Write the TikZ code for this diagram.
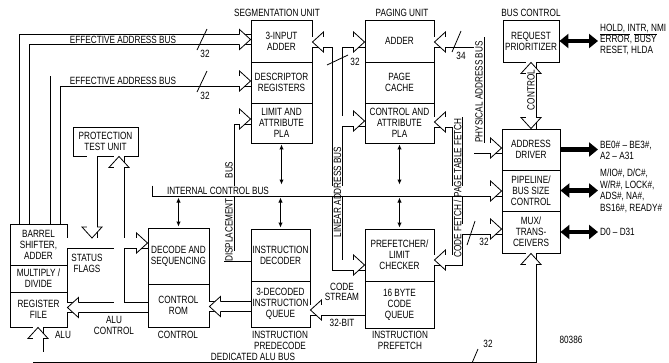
\documentclass[tikz,border=0pt]{standalone}
\usepackage{fontspec}
\setmainfont{Liberation Sans}[FakeStretch=0.78]
\usetikzlibrary{arrows.meta}

\tikzset{
  box/.style={draw, line width=0.9pt, fill=white, inner sep=0pt, align=center},
  busout/.style={line width=11pt, line join=miter},
  busin/.style={white, line width=9.4pt, line join=miter},
  sig/.style={line width=4.5pt, >={Triangle[width=14pt,length=9pt]}},
  link/.style={line width=1pt, >={Latex[length=5pt,width=4.5pt]}, <->, shorten <=1pt, shorten >=1pt},
  sigtext/.style={anchor=west, align=left, inner sep=2pt},
  pics/head/.style={code={\filldraw[fill=white, line width=0.8pt, line join=miter] (-11,5.1) -- (-11,10) -- (0,0) -- (-11,-10) -- (-11,-5.1);}},
}

\begin{document}
\begin{tikzpicture}[x=1pt, y=-1pt, font=\fontsize{10.5}{11}\selectfont]
\useasboundingbox (0,0) rectangle (669,362);

% segmentation unit
\node[box, minimum width=61pt, minimum height=42pt] (sadd) at (281.5,41) {3-INPUT\\ADDER};
\node[box, minimum width=61pt, minimum height=41pt] (sdesc) at (281.5,82.5) {DESCRIPTOR\\REGISTERS};
\node[box, minimum width=61pt, minimum height=40pt] (slim) at (281.5,123) {LIMIT AND\\ATTRIBUTE\\PLA};

% paging unit
\node[box, minimum width=69pt, minimum height=42pt] (padd) at (399.5,41) {ADDER};
\node[box, minimum width=69pt, minimum height=41pt] (pcache) at (399.5,82.5) {PAGE\\CACHE};
\node[box, minimum width=69pt, minimum height=40pt] (ppla) at (399.5,123) {CONTROL AND\\ATTRIBUTE\\PLA};

% bus control
\node[box, minimum width=56pt, minimum height=42pt] (req) at (531,41) {REQUEST\\PRIORITIZER};
\node[box, minimum width=58pt, minimum height=41pt] (adr) at (531,149.5) {ADDRESS\\DRIVER};
\node[box, minimum width=58pt, minimum height=41pt] (pipe) at (531,190.5) {PIPELINE/\\BUS SIZE\\CONTROL};
\node[box, minimum width=58pt, minimum height=42pt] (mux) at (531,232) {MUX/\\TRANS-\\CEIVERS};

% alu
\node[box, minimum width=57pt, minimum height=41pt] (bar) at (38.5,244.5) {BARREL\\SHIFTER,\\ADDER};
\node[box, minimum width=57pt, minimum height=27pt] (mul) at (38.5,278.5) {MULTIPLY /\\DIVIDE};
\node[box, minimum width=57pt, minimum height=35pt] (reg) at (38.5,309.5) {REGISTER\\FILE};
\node[box, minimum width=65pt, minimum height=29pt] (prot) at (105.5,141.5) {PROTECTION\\TEST UNIT};

% control
\node[box, minimum width=61pt, minimum height=56pt] (dec) at (178.5,256) {DECODE AND\\SEQUENCING};
\node[box, minimum width=61pt, minimum height=43pt] (rom) at (178.5,305.5) {CONTROL\\ROM};

% instruction predecode and prefetch
\node[box, minimum width=59pt, minimum height=52pt] (idec) at (280.5,255) {INSTRUCTION\\DECODER};
\node[box, minimum width=59pt, minimum height=46pt] (iq) at (280.5,304) {3-DECODED\\INSTRUCTION\\QUEUE};
\node[box, minimum width=69pt, minimum height=52pt] (pf) at (399.5,255) {PREFETCHER/\\LIMIT\\CHECKER};
\node[box, minimum width=69pt, minimum height=47pt] (cq) at (399.5,304.5) {16 BYTE\\CODE\\QUEUE};

\coordinate (ea1) at (24.5,39.5);
\coordinate (ea2) at (55.5,81);
\coordinate (dsp) at (229,119);
\coordinate (dspb) at (229,256);
\coordinate (lin) at (337.5,42);
\coordinate (linm) at (337.5,121);
\coordinate (linb) at (337.5,265);
\coordinate (cf) at (457.5,122);
\coordinate (cfm) at (457.5,229);
\coordinate (cfb) at (457.5,260);
\coordinate (phy) at (479,42);
\coordinate (phyb) at (479,148);
\coordinate (cs) at (337,310);
\coordinate (ri) at (230,306.5);
\coordinate (aluc) at (119,307.5);
\coordinate (st) at (92,243);
\coordinate (pd) at (92,238);
\coordinate (alu) at (38,357);
\coordinate (icb) at (152,191);
\coordinate (icbt) at (152,185.5);
\coordinate (icbb) at (152,196.5);

\foreach \s in {busout,busin}{
  \draw[\s] (ea1 |- bar.north) -- (ea1) -- (ea1 -| sadd.west);
  \draw[\s] (ea2 |- bar.north) -- (ea2) -- (ea2 -| sdesc.west);
  \draw[\s] (dspb -| idec.west) -- (dspb) -- (dsp) -- (dsp -| slim.west);
  \draw[\s] (lin -| sadd.east) -- (lin -| padd.west) (lin) -- (linb) -- (linb -| pf.west) (linm) -- (linm -| ppla.west);
  \draw[\s] (cf -| ppla.east) -- (cf) -- (cfb) -- (cfb -| pf.east) (cfm) -- (cfm -| mux.west);
  \draw[\s] (phy -| padd.east) -- (phy) -- (phyb) -- (phyb -| adr.west);
  \draw[\s] (req.south) -- (adr.north);
  \draw[\s] (cs -| cq.west) -- (cs -| iq.east);
  \draw[\s] (ri -| iq.west) -- (ri -| rom.east);
  \draw[\s] (st -| bar.east) -- (st -| dec.west);
  \draw[\s] (prot.south -| pd) -- (pd);
  \draw[\s] (aluc -| rom.west) -- (aluc -| reg.east) (aluc) -- (aluc |- prot.south);
  \draw[\s] (alu |- reg.south) -- (alu) -- (alu -| mux.south) -- (mux.south);
}
\foreach \s in {busout,busin}
  \draw[\s] (icb) -- (icb -| pipe.west);
\draw[line width=0.8pt] (icbt) -- (icbb);

\pic at (ea1 -| sadd.west) {head};
\pic at (ea2 -| sdesc.west) {head};
\pic at (dsp -| slim.west) {head};
\pic[rotate=180] at (lin -| sadd.east) {head};
\pic at (lin -| padd.west) {head};
\pic at (linm -| ppla.west) {head};
\pic at (linb -| pf.west) {head};
\pic[rotate=180] at (cf -| ppla.east) {head};
\pic[rotate=180] at (cfb -| pf.east) {head};
\pic at (cfm -| mux.west) {head};
\pic[rotate=180] at (phy -| padd.east) {head};
\pic at (phyb -| adr.west) {head};
\pic[rotate=90] at (req.south) {head};
\pic[rotate=-90] at (adr.north) {head};
\pic[rotate=180] at (cs -| iq.east) {head};
\pic[rotate=180] at (ri -| rom.east) {head};
\pic[rotate=180] at (aluc -| reg.east) {head};
\pic[rotate=90] at (aluc |- prot.south) {head};
\pic at (st -| dec.west) {head};
\pic[rotate=-90] at (pd) {head};
\pic[rotate=90] at (alu |- reg.south) {head};
\pic[rotate=90] at (mux.south) {head};
\pic at (icb -| pipe.west) {head};

\draw[link] (slim.south) -- (slim.south |- icbt);
\draw[link] (idec.north) -- (idec.north |- icbb);
\draw[link] (ppla.south) -- (ppla.south |- icbt);
\draw[link] (pf.north) -- (pf.north |- icbb);
\draw[link] (dec.north) -- (dec.north |- icbb);

% external signals
\node[sigtext] (hold) at (598,40) {HOLD, INTR, NMI\\$\overline{\mbox{ERROR}}$, $\overline{\mbox{BUSY}}$\\RESET, HLDA};
\node[sigtext] (be) at (598,150) {BE0\# -- BE3\#,\\A2 -- A31};
\node[sigtext, font=\fontsize{10.5}{11.5}\selectfont] (mio) at (598,191) {M/IO\#, D/C\#,\\W/R\#, LOCK\#,\\ADS\#, NA\#,\\BS16\#, READY\#};
\node[sigtext] (dat) at (598,232) {D0 -- D31};
\draw[sig, <->] (req.east) -- (req.east -| hold.west);
\draw[sig, ->] (adr.east) -- (adr.east -| be.west);
\draw[sig, <->] (pipe.east) -- (pipe.east -| mio.west);
\draw[sig, <->] (mux.east) -- (mux.east -| dat.west);

% bus widths
\draw[line width=0.8pt] (197,50) -- (207,29);
\draw[line width=0.8pt] (197,92) -- (207,71);
\draw[line width=0.8pt] (327,65) -- (348,55);
\draw[line width=0.8pt] (452,52) -- (461,31);
\draw[line width=0.8pt] (467,245) -- (475,221);
\draw[line width=0.8pt] (472,363) -- (478,349);
\node (w1) at (205,54) {32};
\node (w2) at (205,96) {32};
\node (w3) at (355,62) {32};
\node (w4) at (461,56) {34};
\node (w5) at (484,242) {32};
\node (w6) at (488,344) {32};

% labels
\node (l1) at (277,13) {SEGMENTATION UNIT};
\node (l2) at (402,13) {PAGING UNIT};
\node (l3) at (531,13) {BUS CONTROL};
\node (l4) at (123,40) {EFFECTIVE ADDRESS BUS};
\node (l5) at (123,81) {EFFECTIVE ADDRESS BUS};
\node (l6) at (218,191) {INTERNAL CONTROL BUS};
\node[rotate=90] (l7) at (229,230) {DISPLACEMENT};
\node[rotate=90] (l8) at (229,170) {BUS};
\node[rotate=90] (l9) at (337.5,192) {LINEAR ADDRESS BUS};
\node[rotate=90] (l10) at (457.5,188) {CODE FETCH / PAGE TABLE FETCH};
\node[rotate=90] (l11) at (479,92) {PHYSICAL ADDRESS BUS};
\node[rotate=90] (l12) at (531,90) {CONTROL};
\node[align=center] (l13) at (87,263) {STATUS\\FLAGS};
\node[align=center] (l14) at (114,325) {ALU\\CONTROL};
\node (l15) at (63,335) {ALU};
\node (l16) at (178,335) {CONTROL};
\node[align=center] (l17) at (280,340.5) {INSTRUCTION\\PREDECODE};
\node[align=center] (l18) at (400,340.5) {INSTRUCTION\\PREFETCH};
\node[align=center, font=\fontsize{10.5}{9.5}\selectfont] (l19) at (342,292) {CODE\\STREAM};
\node (l20) at (342,323) {32-BIT};
\node (l21) at (571,340) {80386};
\node (l22) at (253,357) {DEDICATED ALU BUS};

\end{tikzpicture}
\end{document}
